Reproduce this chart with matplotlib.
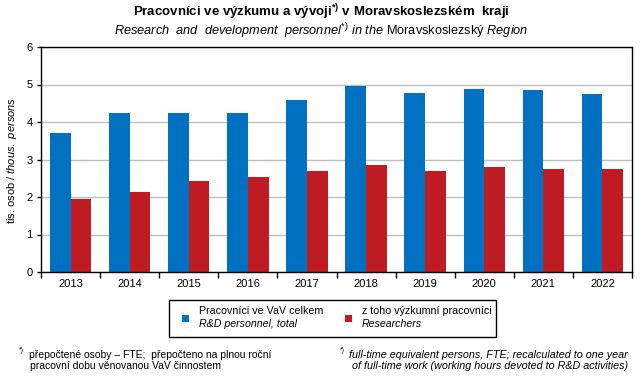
import numpy as np
import matplotlib
matplotlib.use('Agg')
import matplotlib.pyplot as plt
from matplotlib.patches import Rectangle

plt.rcParams['font.family'] = ['Liberation Sans', 'DejaVu Sans']
plt.rcParams['mathtext.fontset'] = 'custom'
plt.rcParams['mathtext.rm'] = 'Liberation Sans'
plt.rcParams['mathtext.it'] = 'Liberation Sans:italic'
plt.rcParams['mathtext.bf'] = 'Liberation Sans:bold'

# data (tis. osob, FTE)
years = ['2013', '2014', '2015', '2016', '2017', '2018', '2019', '2020', '2021', '2022']
total = [3.71, 4.24, 4.24, 4.24, 4.59, 4.96, 4.77, 4.88, 4.85, 4.75]
researchers = [1.95, 2.13, 2.43, 2.53, 2.69, 2.85, 2.69, 2.80, 2.75, 2.75]

c_blue = '#0070C0'
c_red = '#BE1B23'

fig = plt.figure(figsize=(6.43, 3.78), dpi=100)
ax = fig.add_axes([41/643, 1-272/378, (632-41)/643, (272-47)/378])

x = np.arange(len(years))
w = 0.35
ax.bar(x - w/2, total, w, color=c_blue, zorder=2)
ax.bar(x + w/2, researchers, w, color=c_red, zorder=2)

ax.set_xlim(-0.5, len(years) - 0.5)
ax.set_ylim(0, 6)
ax.set_yticks(range(0, 7))
ax.yaxis.grid(True, color='#BFBFBF', linewidth=1)
ax.set_axisbelow(True)

# x ticks between categories, labels at centers
ax.set_xticks(np.arange(-0.5, len(years)))
ax.set_xticklabels([])
ax.set_xticks(x, minor=True)
ax.set_xticklabels(years, minor=True)
ax.tick_params(axis='x', which='major', length=4, width=1, direction='out', color='black')
ax.tick_params(axis='x', which='minor', length=0, labelsize=8, pad=5)
ax.tick_params(axis='y', length=3, width=1, labelsize=8, pad=3)
for s in ax.spines.values():
    s.set_color('black')
    s.set_linewidth(1)

fig.text(12/643, 1-160/378, r'tis. osob / $\it{thous.\ persons}$', rotation=90,
         ha='center', va='center', fontsize=8)

# titles
fig.text(0.5, 1-12/378, r'Pracovníci ve výzkumu a vývoji$^{\mathbf{*)}}$ v Moravskoslezském  kraji',
         ha='center', va='center', fontsize=9.5, fontweight='bold')
fig.text(0.5, 1-31/378,
         r'$\it{Research\ \ and\ \ development\ \ personnel}^{*)}\ \it{in\ the}$ Moravskoslezský $\it{Region}$',
         ha='center', va='center', fontsize=9.2)

# legend drawn by hand (mixed upright / italic lines)
fig.add_artist(Rectangle((169/643, 1-337/378), (496-169)/643, 37/378, transform=fig.transFigure,
                         facecolor='white', edgecolor='black', linewidth=1))
leg_items = [(c_blue, 'Pracovníci ve VaV celkem', 'R&D personnel, total', 182, 199),
             (c_red, 'z toho výzkumní pracovníci', 'Researchers', 345, 362)]
for col, l1, l2, xs, xt in leg_items:
    fig.add_artist(Rectangle((xs/643, 1-322/378), 7/643, 7/378, transform=fig.transFigure,
                             facecolor=col, edgecolor='none'))
    fig.text(xt/643, 1-311/378, l1, ha='left', va='center', fontsize=7.7)
    fig.text(xt/643, 1-324/378, l2, ha='left', va='center', fontsize=7.7, style='italic')

# footnotes
fig.text(19/643, 1-351/378, '*)', ha='left', va='center', fontsize=5)
fig.text(29/643, 1-355/378, 'přepočtené osoby – FTE;  přepočteno na plnou roční',
         ha='left', va='center', fontsize=7.5)
fig.text(30/643, 1-366/378, 'pracovní dobu věnovanou VaV činnostem',
         ha='left', va='center', fontsize=7.5)
fig.text(340/643, 1-351/378, '*)', ha='left', va='center', fontsize=5)
fig.text(628/643, 1-355/378, 'full-time equivalent persons, FTE; recalculated to one year',
         ha='right', va='center', fontsize=7.75, style='italic')
fig.text(628/643, 1-366/378, 'of full-time work (working hours devoted to R&D activities)',
         ha='right', va='center', fontsize=7.75, style='italic')

fig.savefig('out.png', dpi=100)
